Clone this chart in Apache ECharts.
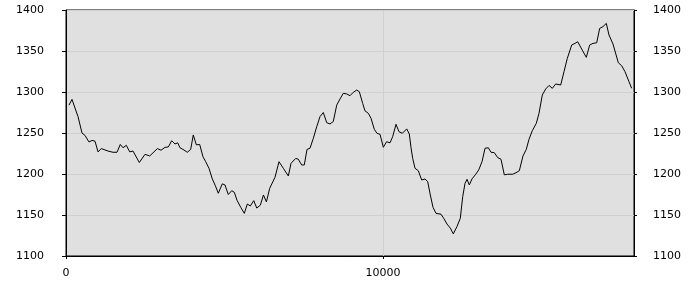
<!DOCTYPE html>
<html>
<head>
<meta charset="utf-8">
<script src="https://cdn.jsdelivr.net/npm/echarts@6/dist/echarts.min.js"></script>
<style>html,body{margin:0;padding:0;background:#fff;}#c{width:700px;height:300px;}</style>
</head>
<body>
<div id="c"></div>
<script>
const xValues = [95,189,379,505,600,726,820,915,1010,1114,1325,1483,1609,1713,1798,1902,2010,2114,2313,2492,2641,2884,2997,3123,3228,3335,3439,3524,3597,3691,3827,3934,4016,4111,4218,4322,4407,4511,4616,4713,4805,4931,5016,5120,5228,5310,5395,5512,5626,5721,5815,5923,6018,6131,6229,6323,6427,6594,6720,6856,7014,7099,7247,7329,7436,7518,7604,7698,7803,7910,8014,8118,8225,8329,8433,8541,8645,8749,8856,8960,9064,9172,9254,9361,9433,9538,9623,9727,9812,9907,10011,10115,10222,10306,10411,10506,10610,10749,10831,10885,10938,11011,11115,11222,11326,11412,11494,11579,11674,11831,11916,12020,12125,12219,12336,12440,12516,12589,12652,12724,12809,12914,13021,13125,13220,13324,13409,13513,13620,13724,13828,13936,14093,14198,14302,14418,14522,14607,14712,14838,14923,15027,15134,15239,15343,15450,15608,15712,15816,15955,16059,16144,16289,16415,16522,16626,16743,16837,16941,17046,17131,17257,17425,17532,17636,17762,17847];
const yValues = [1284,1291,1270,1250,1247,1239,1241,1240,1227,1231,1228,1226.5,1226.5,1236,1232,1235,1227,1228,1214,1224,1222,1231,1229,1232.5,1233,1240.6,1236.6,1238,1232,1230,1226.5,1230,1247.6,1235.6,1236,1221,1215,1207,1194,1185.6,1176.5,1188,1186.6,1175,1179.6,1177.7,1168,1159.4,1152,1163.4,1161,1167.5,1158.5,1162,1174.4,1166,1182.6,1196,1215,1207,1197.6,1213,1219,1218,1211,1211,1230,1231.4,1243.5,1257.7,1270,1275,1262.6,1261,1264,1284,1291.5,1298.4,1297.6,1295.5,1299.6,1302.4,1300.4,1286,1277,1274,1268,1254.5,1249.6,1248.4,1232.6,1239.4,1238,1245.5,1260.6,1251.6,1249.6,1255,1248.8,1232,1219,1207,1204,1192.7,1194,1190.6,1174.4,1159.4,1152,1151,1146,1139,1134,1127,1136,1146,1172.4,1188.6,1193.5,1186.6,1194,1199,1205,1215,1231.4,1232,1226.5,1226,1220,1218,1199,1199.7,1199.7,1201.6,1204,1222,1230,1242.3,1252.8,1261.8,1274,1296.3,1303.7,1308,1304.5,1309.8,1308.5,1324.8,1341,1357.3,1359.3,1361.3,1351,1342.3,1357.3,1359.3,1360,1377.6,1379.7,1383.7,1369.5,1358.5,1335.7,1332,1324.8,1312.6,1304.5];
const yTicks = [1100,1150,1200,1250,1300,1350,1400];
const xTicks = [0,10000];

const data = xValues.map((x, i) => [x, yValues[i]]);
const font = {color:'#000', fontSize:11, fontFamily:'DejaVu Sans'};
const chart = echarts.init(document.getElementById('c'), null, {renderer:'canvas'});
chart.setOption({
  animation:false,
  grid:{left:66, right:66, top:10, bottom:44, show:true, backgroundColor:'#e0e0e0', borderColor:'#000', borderWidth:1},
  xAxis:{type:'value', min:0, max:17920, interval:10000,
    axisLine:{show:true, lineStyle:{color:'#000'}},
    axisTick:{show:true, length:3, lineStyle:{color:'#000'}},
    axisLabel:Object.assign({margin:12, showMaxLabel:false, formatter:v => xTicks.includes(v) ? String(v) : ''}, font),
    splitLine:{show:true, lineStyle:{color:'#d0d0d0'}}},
  yAxis:[
    {type:'value', position:'left', min:yTicks[0], max:yTicks[yTicks.length-1], interval:50,
      axisLine:{show:true, lineStyle:{color:'#000'}},
      axisTick:{show:true, length:4, lineStyle:{color:'#000'}},
      axisLabel:Object.assign({margin:22, formatter:v => String(v)}, font),
      splitLine:{show:true, lineStyle:{color:'#d0d0d0'}}},
    {type:'value', position:'right', min:yTicks[0], max:yTicks[yTicks.length-1], interval:50,
      axisLine:{show:true, lineStyle:{color:'#000'}},
      axisTick:{show:true, length:3, lineStyle:{color:'#000'}},
      axisLabel:Object.assign({margin:19, formatter:v => String(v)}, font),
      splitLine:{show:false}}
  ],
  series:[{type:'line', data:data, showSymbol:false, symbol:'none', lineStyle:{color:'#000', width:1}, yAxisIndex:0}]
});
</script>
</body>
</html>
